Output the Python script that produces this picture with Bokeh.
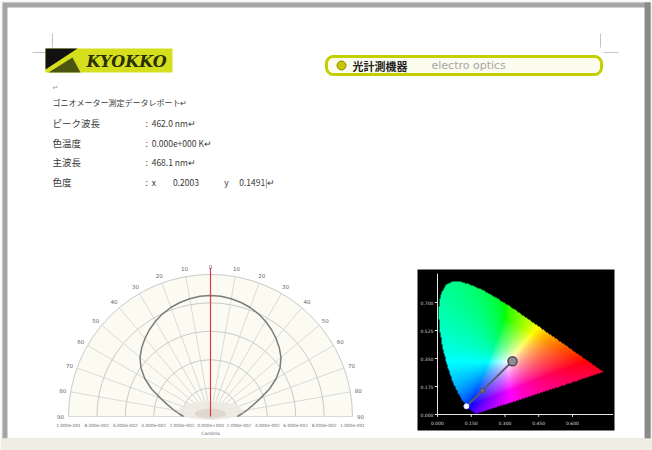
import numpy as np
from bokeh.plotting import figure
from bokeh.models import Range1d
from bokeh.core.properties import value
from bokeh.embed import file_html
from bokeh.resources import INLINE

# ---------------- report values ----------------
report_title = "ゴニオメーター測定データレポート"
field_labels = ["ピーク波長", "色温度", "主波長", "色度"]
peak_wavelength_nm = 462.0
color_temperature_k = 0.0
dominant_wavelength_nm = 468.1
chroma_x = 0.2003
chroma_y = 0.1491

# ---------------- goniometer intensity (cd) ----------------
angles_deg = [-90, -85, -80, -75, -70, -65, -60, -55, -50, -45, -40, -35, -30, -25, -20, -15, -10, -5,
              0, 5, 10, 15, 20, 25, 30, 35, 40, 45, 50, 55, 60, 65, 70, 75, 80, 85, 90]
intensity_cd = [0.0190, 0.0222, 0.0262, 0.0310, 0.0373, 0.0458, 0.0535, 0.0598, 0.0648, 0.0685,
                0.0718, 0.0748, 0.0775, 0.0798, 0.0817, 0.0831, 0.0842, 0.0850,
                0.0852,
                0.0850, 0.0842, 0.0831, 0.0817, 0.0798, 0.0775, 0.0748, 0.0718, 0.0685, 0.0648,
                0.0598, 0.0535, 0.0458, 0.0373, 0.0310, 0.0262, 0.0222, 0.0190]
peak_angle_deg = 0
ring_values_cd = [0.02, 0.04, 0.06, 0.08, 0.10]
spoke_angles_deg = list(range(-90, 91, 10))
radial_axis_title = "Candela"

# ---------------- CIE 1931 chromaticity ----------------
cie_x_ticks = [0.0, 0.15, 0.30, 0.45, 0.60]
cie_y_ticks = [0.0, 0.175, 0.35, 0.525, 0.70]
white_point = (0.3333, 0.3333)
locus_nm = list(range(380, 705, 5))
locus_x = [0.1741, 0.1740, 0.1738, 0.1736, 0.1733, 0.1730, 0.1726, 0.1721, 0.1714, 0.1703, 0.1689,
           0.1669, 0.1644, 0.1611, 0.1566, 0.1510, 0.1440, 0.1355, 0.1241, 0.1096, 0.0913, 0.0687,
           0.0454, 0.0235, 0.0082, 0.0039, 0.0139, 0.0389, 0.0743, 0.1142, 0.1547, 0.1929, 0.2296,
           0.2658, 0.3016, 0.3373, 0.3731, 0.4087, 0.4441, 0.4788, 0.5125, 0.5448, 0.5752, 0.6029,
           0.6270, 0.6482, 0.6658, 0.6801, 0.6915, 0.7006, 0.7079, 0.7140, 0.7190, 0.7230, 0.7260,
           0.7283, 0.7300, 0.7311, 0.7320, 0.7327, 0.7334, 0.7340, 0.7344, 0.7346, 0.7347]
locus_y = [0.0050, 0.0050, 0.0049, 0.0049, 0.0048, 0.0048, 0.0048, 0.0048, 0.0051, 0.0058, 0.0069,
           0.0086, 0.0109, 0.0138, 0.0177, 0.0227, 0.0297, 0.0399, 0.0578, 0.0868, 0.1327, 0.2007,
           0.2950, 0.4127, 0.5384, 0.6548, 0.7502, 0.8120, 0.8338, 0.8262, 0.8059, 0.7816, 0.7543,
           0.7243, 0.6923, 0.6589, 0.6245, 0.5896, 0.5547, 0.5202, 0.4866, 0.4544, 0.4242, 0.3965,
           0.3725, 0.3514, 0.3340, 0.3197, 0.3083, 0.2993, 0.2920, 0.2859, 0.2809, 0.2770, 0.2740,
           0.2717, 0.2700, 0.2689, 0.2680, 0.2673, 0.2666, 0.2660, 0.2656, 0.2654, 0.2653]

W, H = 652, 450
JP = value("Noto Sans CJK JP")
SANS = value("DejaVu Sans")
SP = "\u00a0"      # narrow gap kept by the renderer
WS = "\u3000"      # full-width gap


def fmt_e(v):
    mant, ex = f"{v:.3e}".split("e")
    return f"{mant}e{int(ex):+04d}"


def h_range(origin_px, px_per_unit):
    return Range1d(start=-origin_px / px_per_unit, end=(W - origin_px) / px_per_unit)


def v_range(origin_px, px_per_unit):
    # origin measured from the top of the page, values grow upward
    return Range1d(start=-(H - origin_px) / px_per_unit, end=origin_px / px_per_unit)


def rounded_box(x0, y0, x1, y1, r, n=10):
    xs, ys = [], []
    for cx, cy, a0 in [(x1 - r, y0 + r, -90), (x1 - r, y1 - r, 0), (x0 + r, y1 - r, 90), (x0 + r, y0 + r, 180)]:
        a = np.radians(np.linspace(a0, a0 + 90, n))
        xs += list(cx + r * np.cos(a))
        ys += list(cy + r * np.sin(a))
    return xs, ys


p = figure(width=W, height=H, x_range=Range1d(0, W), y_range=Range1d(H, 0),
           x_axis_location=None, y_axis_location=None, toolbar_location=None,
           output_backend="svg", min_border=0)
p.outline_line_color = None
p.grid.grid_line_color = None
p.background_fill_color = "#ffffff"
p.border_fill_color = "#ffffff"

# polar plot: 1420 px per cd, centre of the goniometer at (210, 416)
p.extra_x_ranges["pol_x"] = h_range(210, 1420)
p.extra_y_ranges["pol_y"] = v_range(416, 1420)
# chromaticity plot
p.extra_x_ranges["cie_x"] = h_range(437, 225)
p.extra_y_ranges["cie_y"] = v_range(414, 160)

# ---------------- page frame ----------------
p.quad(left=0, right=W, top=0, bottom=H, fill_color="#f3f3f3", line_color=None)
p.quad(left=2, right=650, top=2, bottom=438, fill_color="#a4a4a4", line_color=None)
p.quad(left=644, right=650, top=2, bottom=438, fill_color="#8a8a8a", line_color=None)
p.quad(left=7, right=644, top=7, bottom=438, fill_color="#ffffff", line_color=None)
p.quad(left=0, right=W, top=438, bottom=H, fill_color="#efeee2", line_color=None)

# crop marks
p.segment(x0=[52, 32, 600, 603], y0=[33, 52, 33, 52], x1=[52, 47, 600, 618], y1=[47, 52, 47, 52],
          line_color="#c4c4c4", line_width=1)

# ---------------- logo ----------------
p.quad(left=45, right=172, top=48, bottom=72, fill_color="#d6df1e", line_color=None)
p.patch(x=[45, 77, 45], y=[48, 48, 69], fill_color="#111111", line_color=None)
p.patch(x=[48, 72, 80], y=[72, 57, 72], fill_color="#4a5510", line_color=None)
p.text(x=[126], y=[61], text=["KYOKKO"], text_font=value("DejaVu Serif"), text_font_style="bold italic",
       text_font_size="16px", text_color="#2a2f00", text_align="center", text_baseline="middle")

# ---------------- banner ----------------
bx, by = rounded_box(326, 56, 601, 74, 7)
p.patch(x=bx, y=by, fill_color="#fbfcee", line_color="#c3d000", line_width=3)
p.scatter(x=[341], y=[65], size=9, fill_color="#c9c400", line_color="#8c8a00", line_width=1)
p.text(x=[352], y=[65.5], text=["光計測機器"], text_font=JP, text_font_style="bold",
       text_font_size="11px", text_color="#222222", text_baseline="middle")
p.text(x=[431], y=[65], text=["electro optics"], text_font=SANS,
       text_font_size="11px", text_color="#a6a6a6", text_baseline="middle")

# ---------------- report text ----------------
p.text(x=[52], y=[87], text=["↵"], text_font=SANS, text_font_size="7px",
       text_color="#9a9a9a", text_baseline="middle")
p.text(x=[52], y=[102], text=[report_title + "↵"], text_font=JP, text_font_size="8px",
       text_color="#3a3a3a", text_baseline="middle")
row_y = [122, 142, 161, 181]
values_text = [f":{SP}{SP}{peak_wavelength_nm:.1f}{SP}nm↵",
               f":{SP}{SP}{fmt_e(color_temperature_k)}{SP}K↵",
               f":{SP}{SP}{dominant_wavelength_nm:.1f}{SP}nm↵",
               f":{SP}{SP}x{WS}{WS}{chroma_x:.4f}{WS}{WS}{WS}y{WS}{SP}{chroma_y:.4f}|↵"]
p.text(x=[52] * 4, y=row_y, text=field_labels, text_font=JP, text_font_size="9.5px",
       text_color="#3a3a3a", text_baseline="middle")
p.text(x=[145] * 4, y=row_y, text=values_text, text_font=JP, text_font_size="8.5px",
       text_color="#3a3a3a", text_baseline="middle")

# ---------------- goniometer polar plot ----------------
pol = dict(x_range_name="pol_x", y_range_name="pol_y")
r_max = ring_values_cd[-1]
p.wedge(x=0, y=0, radius=r_max, start_angle=0, end_angle=np.pi,
        fill_color="#fcfbf2", line_color=None, **pol)
p.arc(x=[0] * len(ring_values_cd), y=[0] * len(ring_values_cd), radius=ring_values_cd,
      start_angle=0, end_angle=np.pi, line_color="#c9c9c9", line_width=1, **pol)
sa = np.radians(spoke_angles_deg)
p.segment(x0=0, y0=0, x1=r_max * np.sin(sa), y1=r_max * np.cos(sa),
          line_color="#d0d0d0", line_width=0.8, **pol)

# soft glow where the spokes converge
p.ellipse(x=0, y=0.004, width=0.046, height=0.013, fill_color="#ebe8e0", fill_alpha=0.8,
          line_color=None, **pol)
p.ellipse(x=0, y=0.002, width=0.022, height=0.007, fill_color="#ddd3cb", fill_alpha=0.8,
          line_color=None, **pol)

th = np.radians(angles_deg)
I = np.array(intensity_cd)
p.line(x=I * np.sin(th), y=I * np.cos(th), line_color="#7c7c7c", line_width=1.5, **pol)

pk = np.radians(peak_angle_deg)
p.segment(x0=0, y0=0, x1=1.045 * r_max * np.sin(pk), y1=1.045 * r_max * np.cos(pk),
          line_color="#e0384a", line_width=1.2, **pol)

lab_r = 1.056 * r_max
p.text(x=lab_r * np.sin(sa), y=lab_r * np.cos(sa), text=[str(abs(a)) for a in spoke_angles_deg],
       text_font=SANS, text_font_size="5.5px", text_color="#666666",
       text_align="center", text_baseline="middle", **pol)
tick_vals = [-v for v in ring_values_cd[::-1]] + [0.0] + ring_values_cd
p.text(x=tick_vals, y=[-0.0057] * len(tick_vals), text=[fmt_e(abs(v)) for v in tick_vals],
       text_font=SANS, text_font_size="4.3px", text_color="#6e6e6e",
       text_align="center", text_baseline="middle", **pol)
p.text(x=[0], y=[-0.0122], text=[radial_axis_title], text_font=SANS, text_font_size="4.5px",
       text_color="#6e6e6e", text_align="center", text_baseline="middle", **pol)

# ---------------- CIE chromaticity diagram ----------------
p.quad(left=417, right=614, top=269, bottom=430, fill_color="#000000", line_color=None)
cie = dict(x_range_name="cie_x", y_range_name="cie_y")

gw, gh = 0.75, 0.85
nx, ny = 420, 480
gx = (np.arange(nx) + 0.5) / nx * gw
gy = (np.arange(ny) + 0.5) / ny * gh
X, Y = np.meshgrid(gx, gy)
lx, ly = np.array(locus_x), np.array(locus_y)
inside = np.zeros(X.shape, dtype=bool)
j = len(lx) - 1
for i in range(len(lx)):
    xi, yi, xj, yj = lx[i], ly[i], lx[j], ly[j]
    if yi != yj:
        cross = ((yi > Y) != (yj > Y)) & (X < (xj - xi) * (Y - yi) / (yj - yi) + xi)
        inside ^= cross
    j = i
XYZ = np.stack([X / Y, np.ones_like(X), (1 - X - Y) / Y])
M = np.array([[3.2406, -1.5372, -0.4986],
              [-0.9689, 1.8758, 0.0415],
              [0.0557, -0.2040, 1.0570]])
rgb = np.einsum("ij,jkl->ikl", M, XYZ)
rgb = rgb - np.minimum(rgb.min(axis=0), 0)
rgb = rgb / rgb.max(axis=0)
rgb = np.clip(rgb, 0, 1) ** (1 / 1.45)
img = np.zeros((ny, nx), dtype=np.uint32)
view = img.view(dtype=np.uint8).reshape((ny, nx, 4))
view[..., 0] = (rgb[0] * 255).astype(np.uint8)
view[..., 1] = (rgb[1] * 255).astype(np.uint8)
view[..., 2] = (rgb[2] * 255).astype(np.uint8)
view[..., 3] = np.where(inside, 255, 0).astype(np.uint8)
p.image_rgba(image=[img], x=0, y=0, dw=gw, dh=gh, **cie)

# axes of the chromaticity plot
p.segment(x0=[0, 0], y0=[0, 0], x1=[0, 0.78], y1=[0.88, 0], line_color="#e8e8e8", line_width=1, **cie)
p.segment(x0=cie_x_ticks, y0=[0] * 5, x1=cie_x_ticks, y1=[-0.015] * 5, line_color="#e8e8e8", **cie)
p.segment(x0=[0] * 5, y0=cie_y_ticks, x1=[-0.012] * 5, y1=cie_y_ticks, line_color="#e8e8e8", **cie)
p.text(x=cie_x_ticks, y=[-0.056] * 5, text=[f"{v:.3f}" for v in cie_x_ticks], text_font=SANS,
       text_font_size="4.5px", text_color="#d8d8d8", text_align="center", text_baseline="middle", **cie)
p.text(x=[-0.018] * 5, y=cie_y_ticks, text=[f"{v:.3f}" for v in cie_y_ticks], text_font=SANS,
       text_font_size="4.5px", text_color="#d8d8d8", text_align="right", text_baseline="middle", **cie)

# dominant-wavelength construction
dom_x = float(np.interp(dominant_wavelength_nm, locus_nm, locus_x))
dom_y = float(np.interp(dominant_wavelength_nm, locus_nm, locus_y))
p.line(x=[white_point[0], dom_x], y=[white_point[1], dom_y], line_color="#575a74", line_width=2, **cie)
p.scatter(x=[white_point[0]], y=[white_point[1]], size=9, fill_color="#8e8e96", line_color="#4a4a55",
          line_width=1.5, **cie)
p.scatter(x=[chroma_x], y=[chroma_y], size=5, fill_color="#6a6a80", line_color="#4a4a60", **cie)
p.scatter(x=[dom_x], y=[dom_y], size=5, fill_color="#ffffff", line_color="#dcdcff", **cie)

open("out.html", "w").write(file_html(p, INLINE))
